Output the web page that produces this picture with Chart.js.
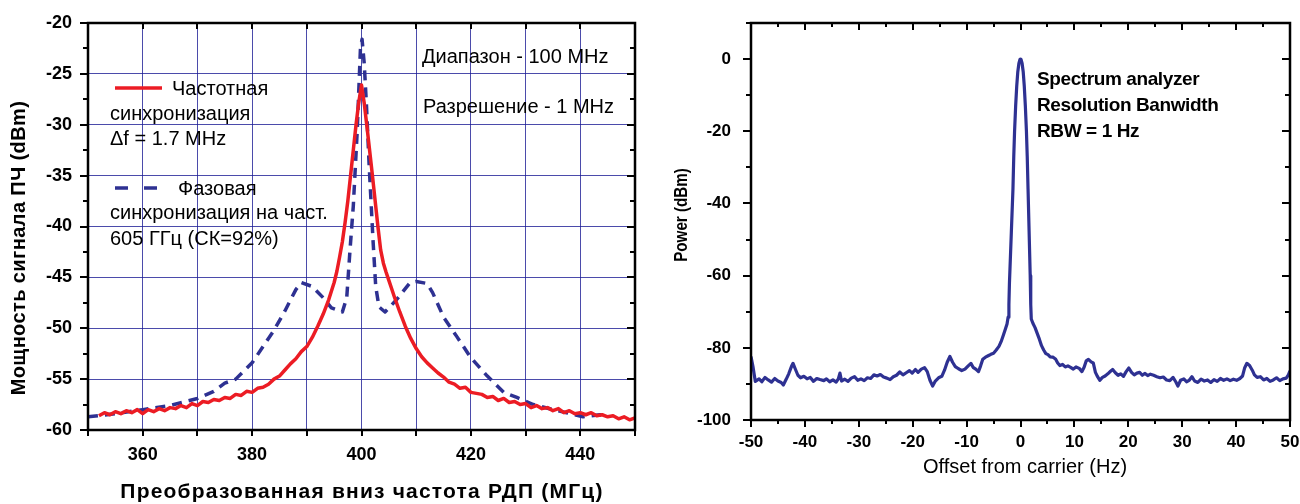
<!DOCTYPE html>
<html>
<head>
<meta charset="utf-8">
<script src="https://cdn.jsdelivr.net/npm/chart.js@4.4.1/dist/chart.umd.min.js"></script>
<style>
  body { margin: 0; background: #fff; }
  #left-chart { position: absolute; left: 0; top: 0; }
  #right-chart { position: absolute; left: 650px; top: 0; }
</style>
</head>
<body>
<canvas id="left-chart" width="650" height="504"></canvas>
<canvas id="right-chart" width="650" height="504"></canvas>
<script>
"use strict";

// ---------- data: left chart (frequency lock vs phase lock) ----------
var freqLockMHz = [352, 353, 354, 355, 356, 357, 358, 359, 360, 361, 362, 363, 364, 365, 366, 367, 368, 369, 370,
  371, 372, 373, 374, 375, 376, 377, 378, 379, 380, 381, 382, 383, 384, 385, 386, 387, 388, 389, 390,
  391, 392, 393, 394, 395, 395.5, 396, 396.5, 397, 397.5, 398, 398.5, 399, 399.5, 400,
  400.5, 401, 401.5, 402, 402.5, 403, 403.5, 404, 404.5, 405, 405.5, 406, 407, 408, 409, 410,
  411, 412, 413, 414, 415, 416, 417, 418, 419, 420, 421, 422, 423, 424, 425, 426, 427, 428, 429, 430,
  431, 432, 433, 434, 435, 436, 437, 438, 439, 440, 441, 442, 443, 444, 445, 446, 447, 448, 449, 450];
var freqLockDbm = [-58.6, -58.3, -58.5, -58.2, -58.4, -58.1, -58.3, -58.0, -58.4, -58.0, -58.2, -57.9, -58.1, -57.8, -57.9, -57.6, -57.8, -57.4, -57.6,
  -57.2, -57.3, -57.0, -57.1, -56.8, -56.9, -56.5, -56.6, -56.2, -56.3, -55.9, -55.8, -55.5, -55.0, -54.7, -54.1, -53.5, -53.0, -52.3, -51.8,
  -50.9, -49.8, -48.6, -47.2, -45.5, -44.4, -43.0, -41.5, -39.6, -37.5, -35.0, -32.5, -30.0, -27.8, -26.1,
  -27.9, -30.2, -32.6, -35.0, -37.5, -40.0, -42.3, -43.6, -44.5, -45.3, -46.1, -46.9, -48.4, -49.8, -51.0, -52.0,
  -52.8, -53.4, -53.9, -54.4, -54.8, -55.3, -55.5, -55.9, -55.8, -56.3, -56.4, -56.5, -56.8, -56.7, -57.1, -56.9, -57.3, -57.2, -57.5, -57.4,
  -57.8, -57.6, -57.9, -57.8, -58.1, -57.9, -58.3, -58.1, -58.4, -58.3, -58.5, -58.3, -58.6, -58.5, -58.7, -58.6, -58.9, -58.7, -59.0, -58.8];

var phaseLockMHz = [350, 355, 360, 365, 370, 373, 375, 377, 380, 382, 384, 386, 388, 389, 391, 393, 394.5, 396.5,
  397.3, 397.9, 398.5, 399.2, 399.8, 400.1, 400.5, 400.9, 401.4, 402.1, 402.6, 403.2, 404.3, 406.4, 408.9,
  410, 412, 413, 415, 417.4, 420, 423, 426, 428.4, 431.4, 435, 437.5, 440.5, 443.6, 445];
var phaseLockDbm = [-58.7, -58.4, -58.0, -57.6, -56.9, -56.2, -55.4, -55.0, -53.4, -51.8, -50.2, -48.3, -46.2, -45.5, -45.9, -47.0, -48.0, -48.4,
  -47.0, -42.3, -38.0, -30.8, -22.6, -21.6, -24.0, -28.0, -34.0, -41.3, -45.9, -47.9, -48.4, -47.2, -45.5,
  -45.4, -45.6, -46.5, -48.9, -50.8, -52.9, -54.7, -56.3, -56.8, -57.5, -58.0, -58.3, -58.7, -58.5, -58.7];

var leftXTickLabels = [360, 380, 400, 420, 440];

// ---------- data: right chart (RBW 1 Hz spectrum) ----------
var offsetHz = [-50, -49.6, -49.2, -48.5, -48, -47.4, -46.8, -46.2, -45.6, -45, -44.4, -44, -43.5, -43, -42.5, -42.2, -41.8, -41.3,
  -40.8, -40.2, -39.6, -39, -38.4, -37.8, -37.2, -36.5, -36, -35.4, -34.8, -34.2, -33.8, -33.5, -33.2, -32.6, -32, -31.4,
  -30.8, -30.2, -29.6, -29, -28.4, -27.8, -27.2, -26.6, -26, -25.4, -24.8, -24.2, -23.6, -23, -22.4, -21.8, -21.2, -20.6,
  -20.1, -19.5, -19, -18.4, -17.8, -17.3, -16.8, -16.3, -15.8, -15.2, -14.6, -14.1, -13.6, -13.1, -12.6, -12.1, -11.5,
  -10.9, -10.3, -9.7, -9.2, -8.8, -8.3, -7.8, -7.4, -7.0, -6.5, -6.0, -5.5, -5.0, -4.5, -4.0, -3.6, -3.2, -2.8, -2.5,
  -2.3, -2.15, -2.05, -1.9, -1.7, -1.4, -1.25, -1.1, -0.9, -0.7, -0.5, -0.3, -0.1, 0, 0.1, 0.3, 0.5, 0.7, 0.9, 1.1,
  1.25, 1.4, 1.6, 1.8, 1.9, 2.0, 2.3, 2.7, 3.1, 3.5, 3.9, 4.3, 4.7, 5.1, 5.5, 6.0, 6.5, 6.9, 7.3, 7.8,
  8.3, 8.8, 9.3, 9.8, 10.3, 10.9, 11.4, 11.8, 12.2, 12.6, 13.1, 13.5, 13.9, 14.3, 14.7, 15.2, 15.7, 16.2, 16.7, 17.1,
  17.6, 18.1, 18.6, 19.1, 19.6, 20.1, 20.6, 21.1, 21.6, 22.1, 22.6, 23.1, 23.6, 24.1, 24.7, 25.3, 25.9, 26.5, 27.1,
  27.7, 28.3, 28.8, 29.2, 29.7, 30.3, 30.8, 31.3, 31.8, 32.3, 32.9, 33.5, 34.1, 34.7, 35.3, 35.9, 36.5, 37.1, 37.7,
  38.3, 38.9, 39.5, 40.1, 40.7, 41.2, 41.6, 42.0, 42.5, 43.0, 43.4, 43.9, 44.5, 45.1, 45.7, 46.3, 46.9, 47.5, 48.1,
  48.7, 49.3, 49.7, 50];
var powerDbm = [-82.4, -85.5, -89.3, -88.6, -89.4, -88.2, -88.9, -89.5, -88.5, -89.2, -89.6, -90.3, -88.8, -87.2, -85.2, -84.3, -85.8, -87.6,
  -88.3, -87.9, -88.6, -88.2, -89.3, -88.5, -88.8, -89.1, -88.6, -89.4, -88.9, -89.5, -88.6, -87.0, -89.2, -88.7, -89.3, -88.4,
  -88.0, -89.0, -88.6, -89.1, -88.3, -88.5, -87.5, -87.8, -87.4, -88.1, -88.4, -88.8, -88.0, -87.6, -86.7, -87.5, -86.9, -86.3,
  -87.0, -86.0, -86.8, -85.9, -85.5, -86.6, -89.0, -90.6, -89.2, -88.3, -87.9, -86.2, -84.0, -82.4, -84.0, -85.2, -85.8,
  -86.3, -85.9, -85.0, -84.3, -85.4, -85.9, -86.6, -85.0, -83.2, -82.6, -82.2, -81.8, -81.5, -80.6, -79.6, -78.3, -76.6, -74.8, -73.4,
  -71.5, -68, -62, -56, -48, -36, -27, -20, -13, -7.5, -3.5, -1.2, -0.1, 0, -0.1, -1.2, -3.5, -7.5, -13, -20,
  -27, -36, -48, -60, -68, -72, -73.2, -74.4, -76.0, -77.6, -79.4, -80.6, -81.6, -81.9, -82.5, -82.6, -83.1, -84.2, -84.9, -84.6,
  -85.3, -85.0, -85.4, -85.9, -85.3, -85.7, -86.6, -85.4, -83.6, -83.2, -83.9, -84.2, -86.8, -88.0, -89.0, -88.2, -87.8, -87.2, -86.5, -86.0,
  -86.9, -87.6, -87.2, -87.9, -86.6, -85.6, -86.8, -87.5, -87.0, -86.8, -87.6, -87.1, -87.7, -87.3, -87.6, -88.0, -88.3, -88.1, -88.9,
  -89.1, -88.2, -89.4, -90.6, -89.0, -88.6, -89.4, -89.0, -88.0, -89.2, -89.6, -88.7, -89.2, -88.9, -89.6, -88.8, -89.3, -88.5, -89.0,
  -88.6, -89.1, -88.7, -89.0, -88.5, -87.8, -85.5, -84.3, -84.9, -86.2, -87.5, -88.2, -88.0, -88.9, -88.5, -89.3, -88.9, -88.3, -89.1,
  -88.6, -88.4, -87.5, -86.4];

// ---------- helpers ----------
var FONT = "'Liberation Sans', Arial, Helvetica, sans-serif";
var RED = "#ec1c24";
var NAVY = "#2e3192";

function toPoints(xs, ys) {
  var pts = [];
  for (var i = 0; i < xs.length; i++) {
    pts.push({ x: xs[i], y: ys[i] });
  }
  return pts;
}

// keep chart area fixed: no extra padding for edge tick labels
function noEdgePad(s) {
  s.paddingLeft = 0;
  s.paddingRight = 0;
  s.paddingTop = 0;
  s.paddingBottom = 0;
}

// squeeze < 1 narrows the text along its own direction
function drawText(ctx, text, x, y, font, spacing, rotate, squeeze) {
  ctx.save();
  ctx.font = font;
  ctx.fillStyle = "#000";
  ctx.letterSpacing = (spacing || 0) + "px";
  ctx.textAlign = "center";
  ctx.textBaseline = "middle";
  ctx.translate(x, y);
  if (rotate) ctx.rotate(-Math.PI / 2);
  if (squeeze) ctx.scale(squeeze, 1);
  ctx.fillText(text, 0, 0);
  ctx.restore();
}

// frame + tick marks drawn by hand (major/minor, mirrored on top/right)
function frameTicksPlugin(spec) {
  return {
    id: "frameTicks",
    afterDatasetsDraw: function (chart) {
      var ctx = chart.ctx;
      var a = chart.chartArea;
      var xs = chart.scales.x;
      var ys = chart.scales.y;
      ctx.save();
      ctx.strokeStyle = "#000";
      ctx.lineWidth = 2;
      ctx.beginPath();
      var v, px, len;
      for (v = spec.xMin; v <= spec.xMax + 1e-9; v += spec.xStep) {
        px = Math.round(xs.getPixelForValue(v));
        len = Math.abs((v / spec.xMajor) - Math.round(v / spec.xMajor)) < 1e-6 ? spec.xLen : spec.xMinorLen;
        ctx.moveTo(px, a.bottom);
        ctx.lineTo(px, a.bottom + len);
        ctx.moveTo(px, a.top);
        ctx.lineTo(px, a.top + len);
      }
      for (v = spec.yMin; v <= spec.yMax + 1e-9; v += spec.yStep) {
        px = Math.round(ys.getPixelForValue(v));
        len = Math.abs((v / spec.yMajor) - Math.round(v / spec.yMajor)) < 1e-6 ? spec.yLen : spec.yMinorLen;
        ctx.moveTo(a.left, px);
        ctx.lineTo(a.left - len, px);
        ctx.moveTo(a.right, px);
        ctx.lineTo(a.right - len, px);
      }
      ctx.stroke();
      ctx.lineWidth = 2.5;
      ctx.strokeRect(a.left, a.top, a.right - a.left, a.bottom - a.top);
      ctx.restore();
    }
  };
}

// ---------- left chart ----------
var leftNotes = {
  id: "leftNotes",
  afterDraw: function (chart) {
    var ctx = chart.ctx;
    ctx.save();
    ctx.fillStyle = "#000";
    ctx.font = "20px " + FONT;
    ctx.textBaseline = "alphabetic";
    // legend samples
    ctx.strokeStyle = RED;
    ctx.lineWidth = 3.5;
    ctx.beginPath();
    ctx.moveTo(115, 88);
    ctx.lineTo(162, 88);
    ctx.stroke();
    ctx.strokeStyle = NAVY;
    ctx.setLineDash([13, 16]);
    ctx.beginPath();
    ctx.moveTo(115, 188);
    ctx.lineTo(158, 188);
    ctx.stroke();
    ctx.setLineDash([]);
    ctx.fillText("Частотная", 172, 95);
    ctx.fillText("синхронизация", 110, 120);
    ctx.fillText("\u0394f = 1.7 MHz", 110, 145);
    ctx.fillText("Фазовая", 178, 195);
    ctx.fillText("синхронизация на част.", 110, 219);
    ctx.fillText("605 ГГц (СК=92%)", 110, 245);
    ctx.fillText("Диапазон - 100 MHz", 422, 63);
    ctx.fillText("Разрешение - 1 MHz", 423, 113);
    ctx.restore();
    // axis titles
    drawText(ctx, "Преобразованная вниз частота РДП (МГц)", 362, 492, "bold 21px " + FONT, 1.2, false);
    drawText(ctx, "Мощность сигнала ПЧ (dBm)", 19, 248, "bold 20px " + FONT, 0.4, true);
  }
};

var leftChart = new Chart(document.getElementById("left-chart").getContext("2d"), {
  type: "line",
  data: {
    datasets: [
      {
        label: "Частотная синхронизация",
        data: toPoints(freqLockMHz, freqLockDbm),
        borderColor: RED,
        borderWidth: 3.5,
        borderJoinStyle: "round",
        pointRadius: 0,
        tension: 0
      },
      {
        label: "Фазовая синхронизация",
        data: toPoints(phaseLockMHz, phaseLockDbm),
        borderColor: NAVY,
        borderWidth: 3.5,
        borderDash: [10, 7],
        borderJoinStyle: "round",
        pointRadius: 0,
        tension: 0
      }
    ]
  },
  options: {
    responsive: false,
    devicePixelRatio: 1,
    animation: false,
    layout: { padding: { top: 23, right: 15, left: 0, bottom: 0 } },
    plugins: { legend: { display: false }, tooltip: { enabled: false } },
    scales: {
      x: {
        type: "linear",
        min: 350,
        max: 450,
        afterFit: function (s) { s.height = 74; noEdgePad(s); },
        grid: { color: "rgba(30,30,150,0.8)", lineWidth: 1, drawTicks: false },
        border: { display: false },
        ticks: {
          stepSize: 10,
          padding: 14,
          maxRotation: 0,
          autoSkip: false,
          color: "#000",
          font: { family: FONT, size: 18, weight: "bold" },
          callback: function (v) { return leftXTickLabels.indexOf(v) >= 0 ? v : ""; }
        }
      },
      y: {
        min: -60,
        max: -20,
        afterFit: function (s) { s.width = 88; noEdgePad(s); },
        grid: { color: "rgba(30,30,150,0.8)", lineWidth: 1, drawTicks: false },
        border: { display: false },
        ticks: {
          stepSize: 5,
          padding: 16,
          color: "#000",
          font: { family: FONT, size: 18, weight: "bold" }
        }
      }
    }
  },
  plugins: [frameTicksPlugin({
    xMin: 350, xMax: 450, xStep: 10, xMajor: 10, xLen: 6, xMinorLen: 6,
    yMin: -60, yMax: -20, yStep: 2.5, yMajor: 5, yLen: 8, yMinorLen: 5
  }), leftNotes]
});

// ---------- right chart ----------
var rightNotes = {
  id: "rightNotes",
  afterDraw: function (chart) {
    var ctx = chart.ctx;
    ctx.save();
    ctx.fillStyle = "#000";
    ctx.font = "bold 19px " + FONT;
    ctx.letterSpacing = "-0.4px";
    ctx.fillText("Spectrum analyzer", 387, 85);
    ctx.fillText("Resolution Banwidth", 387, 111);
    ctx.fillText("RBW = 1 Hz", 387, 137);
    ctx.restore();
    drawText(ctx, "Offset from carrier (Hz)", 375, 467, "20px " + FONT, 0, false);
    drawText(ctx, "Power (dBm)", 32, 215, "bold 19px " + FONT, 0, true, 0.8);
  }
};

var rightChart = new Chart(document.getElementById("right-chart").getContext("2d"), {
  type: "line",
  data: {
    datasets: [
      {
        label: "Power",
        data: toPoints(offsetHz, powerDbm),
        borderColor: NAVY,
        borderWidth: 3.2,
        borderJoinStyle: "round",
        pointRadius: 0,
        tension: 0
      }
    ]
  },
  options: {
    responsive: false,
    devicePixelRatio: 1,
    animation: false,
    layout: { padding: { top: 23, right: 10, left: 0, bottom: 0 } },
    plugins: { legend: { display: false }, tooltip: { enabled: false } },
    scales: {
      x: {
        type: "linear",
        min: -50,
        max: 50,
        afterFit: function (s) { s.height = 84; noEdgePad(s); },
        grid: { display: false },
        border: { display: false },
        ticks: {
          stepSize: 10,
          padding: 4,
          maxRotation: 0,
          autoSkip: false,
          color: "#000",
          font: { family: FONT, size: 17, weight: "bold" }
        }
      },
      y: {
        min: -100,
        max: 10,
        afterFit: function (s) { s.width = 101; noEdgePad(s); },
        grid: { display: false },
        border: { display: false },
        ticks: {
          stepSize: 20,
          padding: 12,
          color: "#000",
          font: { family: FONT, size: 17, weight: "bold" },
          callback: function (v) { return v % 20 === 0 ? v : ""; }
        }
      }
    }
  },
  plugins: [frameTicksPlugin({
    xMin: -50, xMax: 50, xStep: 5, xMajor: 10, xLen: 7, xMinorLen: 4,
    yMin: -100, yMax: 10, yStep: 10, yMajor: 20, yLen: 8, yMinorLen: 5
  }), rightNotes]
});
</script>
</body>
</html>
